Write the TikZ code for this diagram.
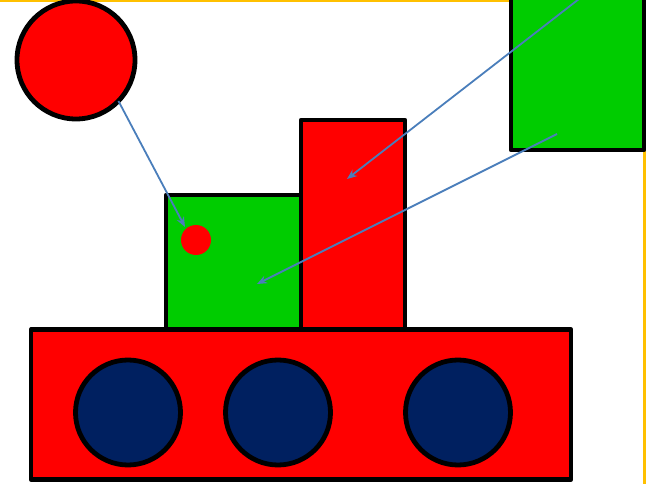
\documentclass[tikz,border=0pt]{standalone}
\usetikzlibrary{arrows.meta}
\definecolor{shred}{HTML}{FF0000}
\definecolor{shgreen}{HTML}{00CC00}
\definecolor{shnavy}{HTML}{002060}
\definecolor{shorange}{HTML}{FFC000}
\definecolor{sharrow}{HTML}{4A7EBB}
\begin{document}
\begin{tikzpicture}[x=1pt,y=-1pt,
  shapebase/.style={draw=black,line width=4.8pt,line join=round,inner sep=0pt,outer sep=0pt},
  redbox/.style={shapebase,rectangle,fill=shred},
  greenbox/.style={shapebase,rectangle,fill=shgreen},
  redball/.style={shapebase,circle,fill=shred},
  wheel/.style={shapebase,circle,fill=shnavy,minimum size=105pt},
  dot/.style={circle,fill=shred,inner sep=0pt,minimum size=30pt},
  pointer/.style={draw=sharrow,line width=1.8pt,-{Stealth[length=10pt,width=8pt]}},
  frame/.style={draw=shorange,line width=2.5pt}]
\useasboundingbox (0,0) rectangle (646,484);
\draw[frame] (-10,1) rectangle (644.5,520);
% top-right green square
\node[greenbox,minimum width=133pt,minimum height=156pt] (gtop) at (577.5,72) {};
% big red circle
\node[redball,minimum size=118pt] (bigc) at (76,60) {};
% middle green square and tall red rectangle
\node[greenbox,minimum width=135pt,minimum height=135pt] (gmid) at (233.5,262.5) {};
\node[redbox,minimum width=104pt,minimum height=210pt] (tall) at (353,225) {};
% base
\node[redbox,minimum width=540pt,minimum height=150pt] (base) at (301,404.5) {};
% wheels
\node[wheel] (w1) at (128,412.5) {};
\node[wheel] (w2) at (278,412.5) {};
\node[wheel] (w3) at (458,412.5) {};
% small red dot
\node[dot] (sdot) at (196,240) {};
% arrows
\coordinate (t1) at (185,227);
\coordinate (s2) at (579,-1);
\coordinate (t2) at (347,179);
\coordinate (s3) at (557,134);
\coordinate (t3) at (257,284);
\draw[pointer] (bigc.-44) -- (t1);
\draw[pointer] (s2) -- (t2);
\draw[pointer] (s3) -- (t3);
\end{tikzpicture}
\end{document}
